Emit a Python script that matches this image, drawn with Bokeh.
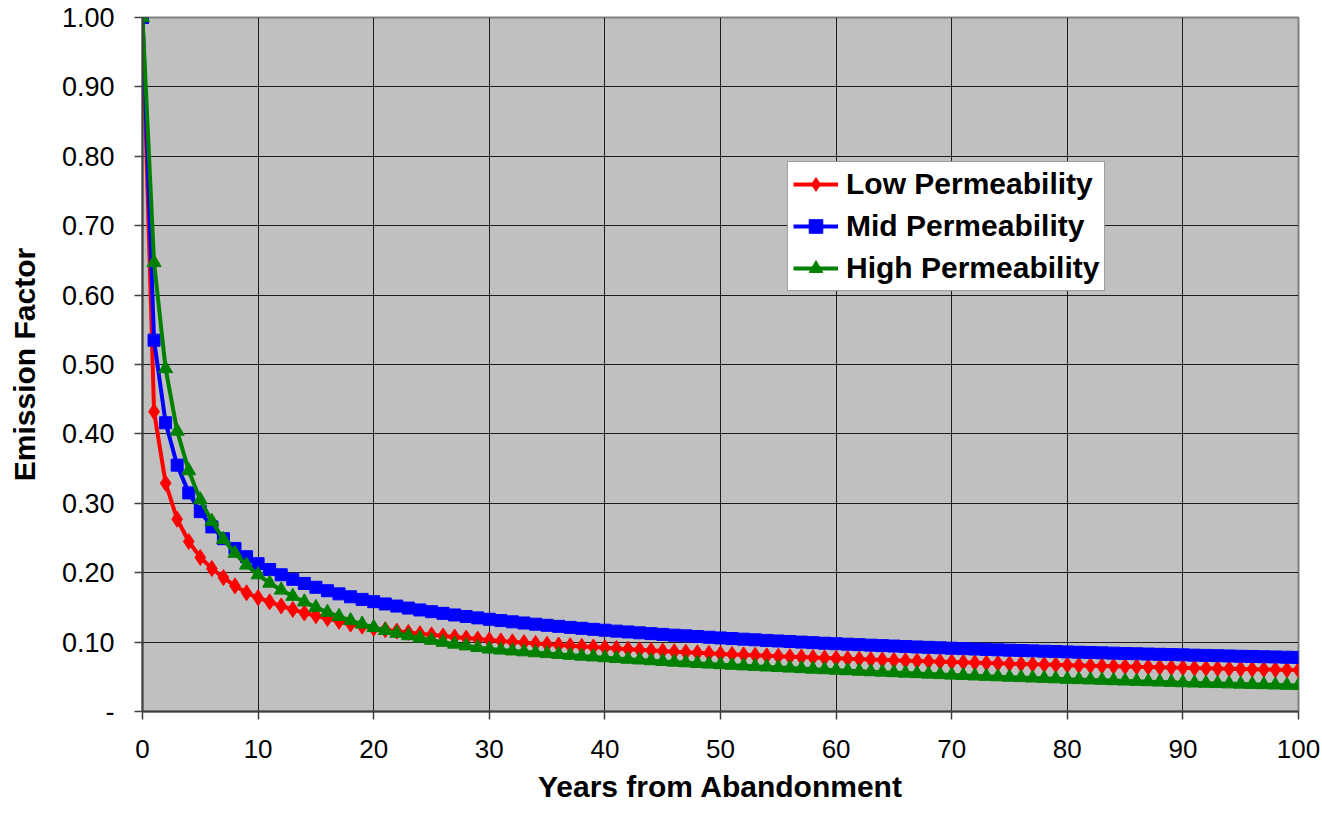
from bokeh.plotting import figure
from bokeh.embed import file_html
from bokeh.resources import INLINE
from bokeh.models import Range1d, FixedTicker, CustomJSTickFormatter, Legend, LegendItem

years = list(range(0, 101))

low_perm = [
    1.000, 0.432, 0.329, 0.277, 0.245, 0.222, 0.206, 0.193, 0.181, 0.171,
    0.164, 0.158, 0.152, 0.147, 0.142, 0.138, 0.134, 0.130, 0.126, 0.123,
    0.120, 0.1178, 0.1158, 0.1139, 0.1121, 0.1104, 0.1088, 0.1073, 0.1058, 0.1044,
    0.1030, 0.1017, 0.1004, 0.0992, 0.0980, 0.0969, 0.0958, 0.0948, 0.0938, 0.0928,
    0.0918, 0.0908, 0.0898, 0.0889, 0.0880, 0.0871, 0.0862, 0.0854, 0.0846, 0.0838,
    0.0830, 0.0823, 0.0816, 0.0809, 0.0802, 0.0796, 0.0790, 0.0784, 0.0778, 0.0772,
    0.0766, 0.0760, 0.0755, 0.0749, 0.0744, 0.0738, 0.0733, 0.0728, 0.0723, 0.0718,
    0.0713, 0.0708, 0.0703, 0.0698, 0.0694, 0.0689, 0.0685, 0.0680, 0.0676, 0.0672,
    0.0668, 0.0664, 0.0660, 0.0656, 0.0652, 0.0648, 0.0644, 0.0641, 0.0637, 0.0633,
    0.0630, 0.0626, 0.0623, 0.0619, 0.0616, 0.0613, 0.0610, 0.0606, 0.0603, 0.0600,
    0.0597,
]

mid_perm = [
    1.000, 0.535, 0.416, 0.355, 0.315, 0.288, 0.266, 0.249, 0.235, 0.223,
    0.213, 0.2045, 0.1970, 0.1905, 0.1845, 0.1790, 0.1740, 0.1695, 0.1653, 0.1615,
    0.1582, 0.1550, 0.1519, 0.1490, 0.1463, 0.1438, 0.1414, 0.1391, 0.1369, 0.1349,
    0.1329, 0.1310, 0.1292, 0.1275, 0.1258, 0.1242, 0.1227, 0.1212, 0.1198, 0.1184,
    0.1171, 0.1158, 0.1146, 0.1134, 0.1122, 0.1111, 0.1100, 0.1090, 0.1080, 0.1070,
    0.1060, 0.1051, 0.1042, 0.1033, 0.1024, 0.1016, 0.1008, 0.1000, 0.0992, 0.0984,
    0.0977, 0.0970, 0.0963, 0.0956, 0.0949, 0.0943, 0.0936, 0.0930, 0.0924, 0.0918,
    0.0912, 0.0906, 0.0900, 0.0895, 0.0889, 0.0884, 0.0879, 0.0874, 0.0869, 0.0864,
    0.0859, 0.0854, 0.0850, 0.0845, 0.0841, 0.0836, 0.0832, 0.0828, 0.0824, 0.0820,
    0.0816, 0.0812, 0.0808, 0.0804, 0.0800, 0.0796, 0.0793, 0.0789, 0.0786, 0.0782,
    0.0779,
]

high_perm = [
    1.000, 0.647, 0.494, 0.404, 0.347, 0.305, 0.274, 0.248, 0.228, 0.211,
    0.197, 0.185, 0.175, 0.166, 0.158, 0.150, 0.143, 0.137, 0.131, 0.126,
    0.121, 0.1168, 0.1128, 0.1092, 0.1058, 0.1027, 0.0998, 0.0971, 0.0946, 0.0922,
    0.0900, 0.0886, 0.0873, 0.0860, 0.0847, 0.0835, 0.0823, 0.0810, 0.0798, 0.0787,
    0.0775, 0.0764, 0.0753, 0.0743, 0.0732, 0.0722, 0.0712, 0.0703, 0.0693, 0.0684,
    0.0675, 0.0666, 0.0658, 0.0650, 0.0642, 0.0634, 0.0626, 0.0618, 0.0610, 0.0603,
    0.0595, 0.0588, 0.0581, 0.0574, 0.0567, 0.0560, 0.0553, 0.0546, 0.0539, 0.0532,
    0.0525, 0.0519, 0.0513, 0.0507, 0.0501, 0.0495, 0.0489, 0.0483, 0.0477, 0.0471,
    0.0465, 0.0460, 0.0455, 0.0450, 0.0445, 0.0440, 0.0435, 0.0430, 0.0425, 0.0420,
    0.0415, 0.0411, 0.0407, 0.0403, 0.0399, 0.0395, 0.0391, 0.0387, 0.0383, 0.0379,
    0.0375,
]

series_names = ["Low Permeability", "Mid Permeability", "High Permeability"]
x_ticks = [0, 10, 20, 30, 40, 50, 60, 70, 80, 90, 100]
y_ticks = [0.0, 0.1, 0.2, 0.3, 0.4, 0.5, 0.6, 0.7, 0.8, 0.9, 1.0]
x_title = "Years from Abandonment"
y_title = "Emission Factor"

FONT = "Liberation Sans"

p = figure(
    width=1322, height=813,
    output_backend="svg", toolbar_location=None,
    x_range=Range1d(0, 100), y_range=Range1d(0, 1.0),
    min_border_left=142, min_border_right=24,
    min_border_top=17, min_border_bottom=102,
)
p.background_fill_color = "#C0C0C0"
p.border_fill_color = "white"
p.outline_line_color = "#808080"
p.outline_line_width = 2

# grid
p.xgrid.ticker = FixedTicker(ticks=x_ticks)
p.ygrid.ticker = FixedTicker(ticks=y_ticks)
for g in (p.xgrid, p.ygrid):
    g.grid_line_color = "black"
    g.grid_line_width = 1
    g.grid_line_alpha = 0.85

# axes
p.xaxis.ticker = FixedTicker(ticks=x_ticks)
p.yaxis.ticker = FixedTicker(ticks=y_ticks)
p.yaxis.formatter = CustomJSTickFormatter(code="return Math.abs(tick) < 1e-9 ? '-' : tick.toFixed(2);")
for ax in (p.xaxis, p.yaxis):
    ax.axis_line_color = "#404040"
    ax.axis_line_width = 2
    ax.major_tick_line_color = "#404040"
    ax.major_tick_line_width = 1.5
    ax.major_tick_in = 0
    ax.major_tick_out = 8
    ax.minor_tick_line_color = None
    ax.major_label_text_font = FONT
    ax.major_label_text_color = "black"
    ax.axis_label_text_font = FONT
    ax.axis_label_text_font_style = "bold"
    ax.axis_label_text_font_size = "30px"
    ax.axis_label_text_color = "black"

p.xaxis.major_label_text_font_size = "26px"
p.yaxis.major_label_text_font_size = "27px"
p.xaxis.major_label_standoff = 20
p.yaxis.major_label_standoff = 20
p.xaxis.axis_label = x_title
p.yaxis.axis_label = y_title
p.xaxis.axis_label_standoff = 9
p.yaxis.axis_label_standoff = 18

colors = ["#FF0000", "#0000FF", "#008000"]
items = []

l0 = p.line(years, low_perm, line_color=colors[0], line_width=4)
m0 = p.scatter(years, low_perm, marker="diamond", size=16, fill_color=colors[0], line_color=colors[0])
items.append(LegendItem(label=series_names[0], renderers=[l0, m0]))

l1 = p.line(years, mid_perm, line_color=colors[1], line_width=4)
m1 = p.scatter(years, mid_perm, marker="square", size=12, fill_color=colors[1], line_color=colors[1])
items.append(LegendItem(label=series_names[1], renderers=[l1, m1]))

l2 = p.line(years, high_perm, line_color=colors[2], line_width=4)
m2 = p.scatter(years, high_perm, marker="triangle", size=14, fill_color=colors[2], line_color=colors[2])
items.append(LegendItem(label=series_names[2], renderers=[l2, m2]))

legend = Legend(
    items=items,
    location=(645, 420),
    orientation="vertical",
    label_text_font=FONT,
    label_text_font_style="bold",
    label_text_font_size="30px",
    label_text_color="black",
    label_standoff=8,
    glyph_width=45,
    glyph_height=34,
    label_height=34,
    spacing=8,
    padding=5,
    margin=0,
    border_line_color="#404040",
    border_line_width=1.5,
    background_fill_color="white",
    background_fill_alpha=1.0,
)
p.add_layout(legend, "center")

open("out.html", "w").write(file_html(p, INLINE))
